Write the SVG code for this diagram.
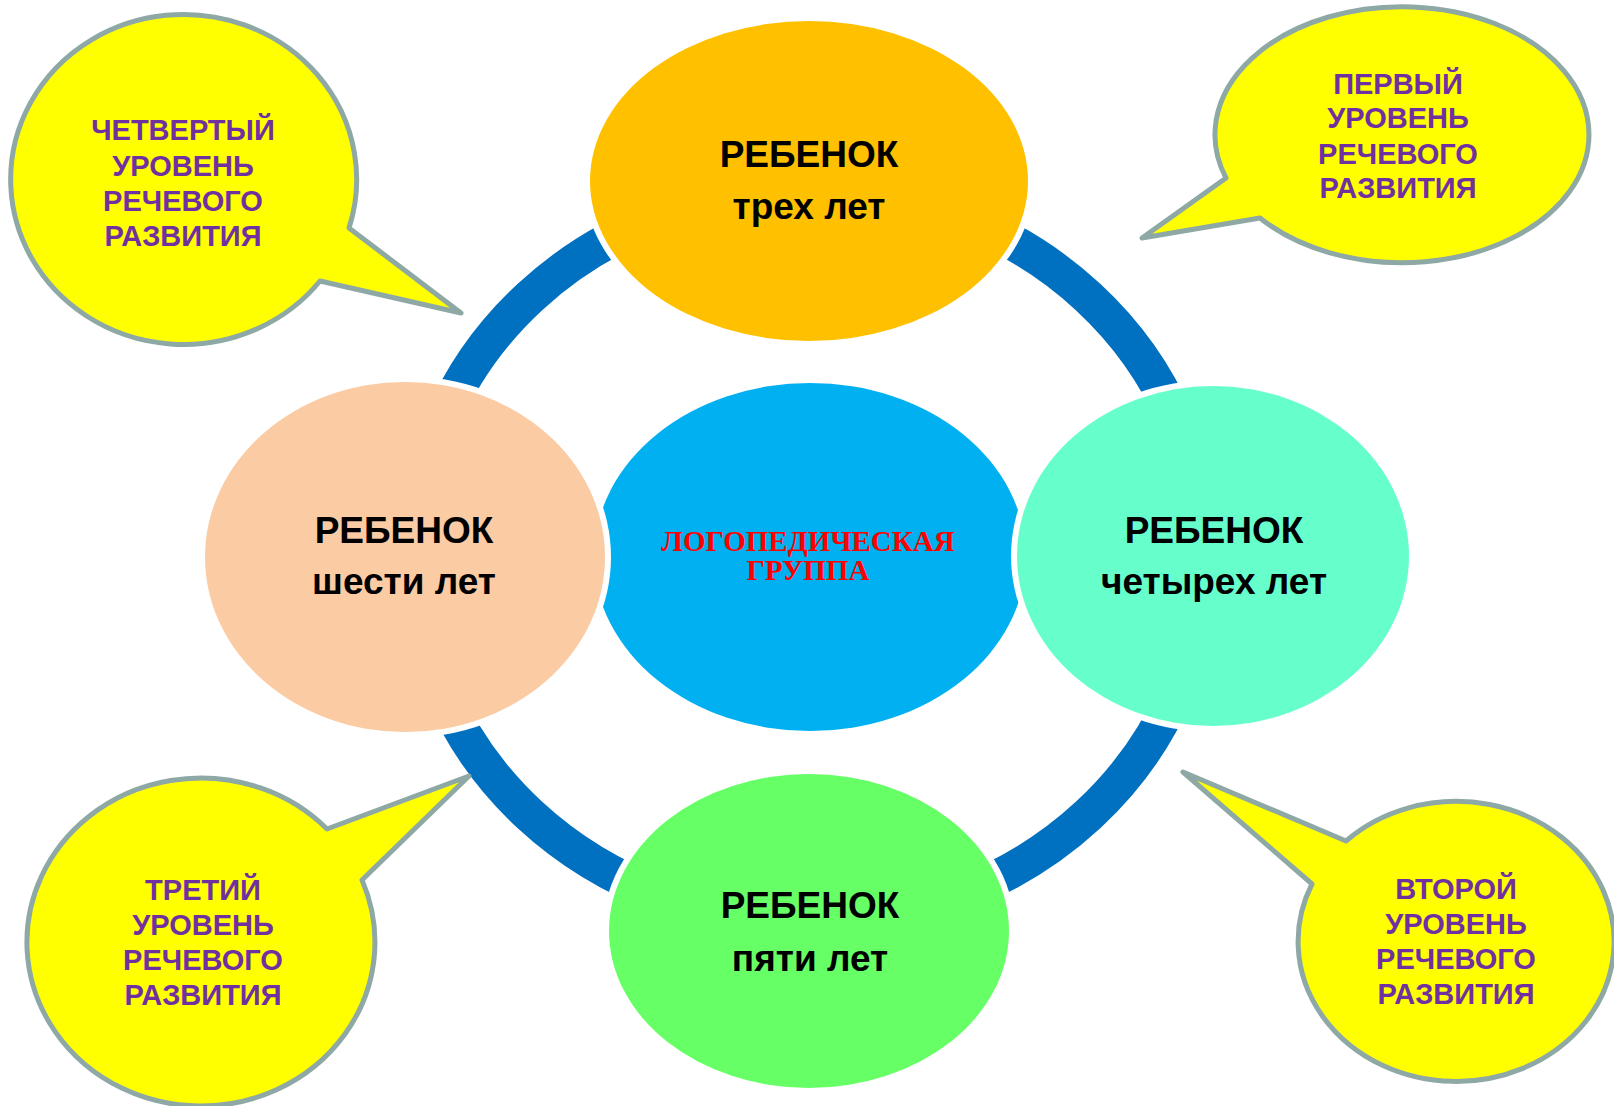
<svg xmlns="http://www.w3.org/2000/svg" width="1614" height="1106" viewBox="0 0 1614 1106">
<style>
.halo{fill:#FFFFFF}
.lbl{font-family:"Liberation Sans",Arial,sans-serif;font-weight:bold;font-size:37px;fill:#000000;text-anchor:middle}
.bub{fill:#FFFF00;stroke:#8EA8A6;stroke-width:5;stroke-linejoin:round}
.btxt{font-family:"Liberation Sans",Arial,sans-serif;font-weight:bold;font-size:29px;fill:#7030A0;text-anchor:middle}
.ctr{font-family:"Liberation Serif","Times New Roman",serif;font-weight:bold;font-size:29px;fill:#FF0000;text-anchor:middle}
</style>
<rect width="1614" height="1106" fill="#FFFFFF"/>
<g id="connectors">
<ellipse cx="809" cy="556" rx="395" ry="366" fill="none" stroke="#0070C0" stroke-width="36"/>
</g>
<g id="node-center">
<ellipse cx="810" cy="557" rx="216" ry="174" fill="#00B0F0"/>
<text class="ctr" x="808" y="551">ЛОГОПЕДИЧЕСКАЯ</text>
<text class="ctr" x="808" y="580">ГРУППА</text>
</g>
<g id="node-top">
<ellipse class="halo" cx="809" cy="181" rx="225" ry="166"/>
<ellipse cx="809" cy="181" rx="219" ry="160" fill="#FFC000"/>
<text class="lbl" x="809" y="167">РЕБЕНОК</text>
<text class="lbl" x="809" y="219">трех лет</text>
</g>
<g id="node-left">
<ellipse class="halo" cx="405" cy="557" rx="206" ry="181"/>
<ellipse cx="405" cy="557" rx="200" ry="175" fill="#FBCBA3"/>
<text class="lbl" x="404" y="543">РЕБЕНОК</text>
<text class="lbl" x="404" y="594">шести лет</text>
</g>
<g id="node-right">
<ellipse class="halo" cx="1213" cy="556" rx="202" ry="176"/>
<ellipse cx="1213" cy="556" rx="196" ry="170" fill="#66FFCC"/>
<text class="lbl" x="1214" y="543">РЕБЕНОК</text>
<text class="lbl" x="1214" y="594">четырех лет</text>
</g>
<g id="node-bottom">
<ellipse class="halo" cx="809" cy="931" rx="206" ry="163"/>
<ellipse cx="809" cy="931" rx="200" ry="157" fill="#66FF66"/>
<text class="lbl" x="810" y="918">РЕБЕНОК</text>
<text class="lbl" x="810" y="971">пяти лет</text>
</g>
<g id="bubble-fourth">
<path class="bub" d="M 320,281 A 173 165 0 1 1 349,228 L 461,313 Z"/>
<text class="btxt" x="183" y="140">ЧЕТВЕРТЫЙ</text>
<text class="btxt" x="183" y="176">УРОВЕНЬ</text>
<text class="btxt" x="183" y="211">РЕЧЕВОГО</text>
<text class="btxt" x="183" y="246">РАЗВИТИЯ</text>
</g>
<g id="bubble-first">
<path class="bub" d="M 1226,178 A 187 128 0 1 1 1260,218 L 1142,238 Z"/>
<text class="btxt" x="1398" y="94">ПЕРВЫЙ</text>
<text class="btxt" x="1398" y="128">УРОВЕНЬ</text>
<text class="btxt" x="1398" y="164">РЕЧЕВОГО</text>
<text class="btxt" x="1398" y="198">РАЗВИТИЯ</text>
</g>
<g id="bubble-third">
<path class="bub" d="M 362,880 A 174 164 0 1 1 327,829 L 469,776 Z"/>
<text class="btxt" x="203" y="900">ТРЕТИЙ</text>
<text class="btxt" x="203" y="935">УРОВЕНЬ</text>
<text class="btxt" x="203" y="970">РЕЧЕВОГО</text>
<text class="btxt" x="203" y="1005">РАЗВИТИЯ</text>
</g>
<g id="bubble-second">
<path class="bub" d="M 1346,841 A 158 140 0 1 1 1312,884 L 1183,772 Z"/>
<text class="btxt" x="1456" y="899">ВТОРОЙ</text>
<text class="btxt" x="1456" y="934">УРОВЕНЬ</text>
<text class="btxt" x="1456" y="969">РЕЧЕВОГО</text>
<text class="btxt" x="1456" y="1004">РАЗВИТИЯ</text>
</g>
</svg>
